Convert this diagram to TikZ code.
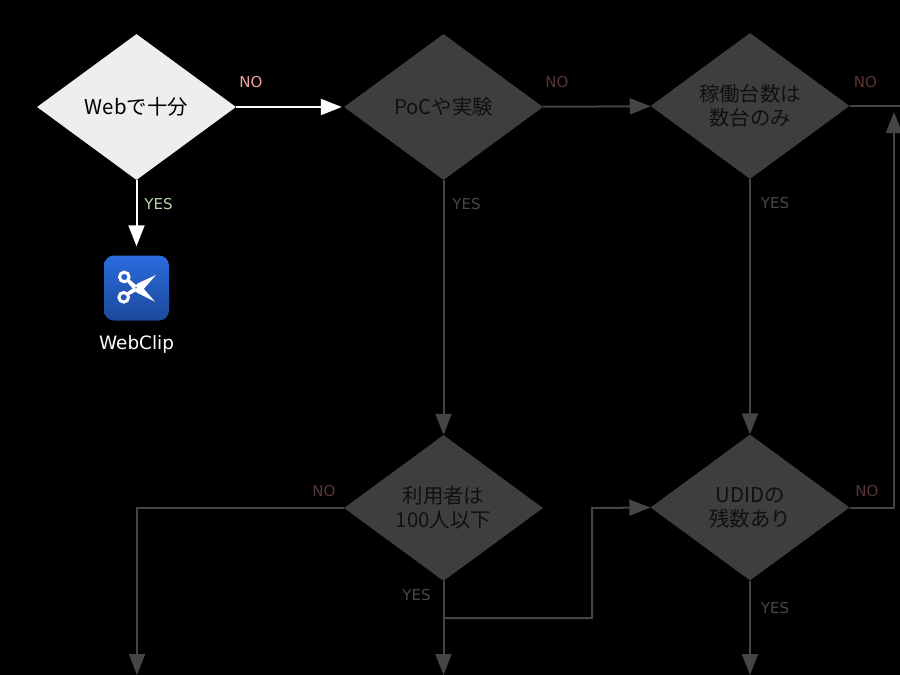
\documentclass[tikz,border=0pt]{standalone}
\usepackage{fontspec}
\setmainfont{DejaVu Sans}
\newfontfamily\cjk{Noto Sans CJK JP}
\usetikzlibrary{shapes.geometric,arrows.meta}
\definecolor{brightfill}{HTML}{EEEEEE}
\definecolor{dimfill}{HTML}{3E3E3E}
\definecolor{dimline}{HTML}{454545}
\definecolor{dimtext}{HTML}{101010}
\definecolor{dimno}{HTML}{5A3434}
\definecolor{dimyes}{HTML}{474A44}
\definecolor{brightno}{HTML}{F0A0A0}
\definecolor{brightyes}{HTML}{B6D7A8}
\definecolor{icontop}{HTML}{2A6BDC}
\definecolor{iconbottom}{HTML}{1B4A9C}
\begin{document}
\begin{tikzpicture}[
		x=1pt,y=-1pt,
		decision/.style={diamond,aspect=1.36,inner sep=0pt,minimum width=199pt,minimum height=146pt,align=center,font=\cjk\fontsize{20.4}{24}\selectfont},
		brightbox/.style={decision,fill=brightfill,text=black},
		dimbox/.style={decision,fill=dimfill,text=dimtext},
		flow/.style={line width=2pt,-{Triangle[length=21pt,width=16pt]}},
		brightflow/.style={flow,draw=white,color=white},
		dimflow/.style={flow,draw=dimline,color=dimline},
		dimlink/.style={line width=2pt,draw=dimline},
		tag/.style={inner sep=0pt,font=\fontsize{15}{17}\selectfont}
	]
	\fill[black] (0,0) rectangle (900,675);
	\useasboundingbox (0,0) rectangle (900,675);
	\node[brightbox] (web) at (136.5,107) {Webで十分};
	\node[dimbox] (poc) at (443.5,107) {PoCや実験};
	\node[dimbox] (few) at (750,106) {稼働台数は\\数台のみ};
	\node[dimbox] (users) at (443.5,508) {利用者は\\100人以下};
	\node[dimbox] (udid) at (750,507.5) {UDIDの\\残数あり};
	\node[rectangle,rounded corners=10pt,minimum size=65pt,inner sep=0pt,top color=icontop,bottom color=iconbottom] (clip) at (136.5,288) {};
	\node[text=white,inner sep=0pt,font=\fontsize{18.4}{20}\selectfont] (cliplabel) at (136.5,344.5) {WebClip};
	\coordinate (fewout) at (900,106);
	\coordinate (udidup) at (894,112);
	\coordinate (udidturn) at (894,507.5);
	\coordinate (usersno) at (137,675);
	\coordinate (usersyes) at (443.5,675);
	\coordinate (usersfork) at (443.5,618);
	\coordinate (usersbend) at (592,618);
	\coordinate (usersrise) at (592,508);
	\coordinate (udidyes) at (750,675);
	\draw[brightflow,shorten >=2pt] (web) -- (poc);
	\draw[brightflow,shorten >=9pt] (web) -- (clip);
	\draw[dimflow] (poc) -- (few);
	\draw[dimflow] (poc) -- (users);
	\draw[dimflow] (few) -- (udid);
	\draw[dimlink] (few) -- (fewout);
	\draw[dimflow] (udid.east) -- (udidturn) -- (udidup);
	\draw[dimflow] (users.west) -| (usersno);
	\draw[dimflow] (users) -- (usersyes);
	\draw[dimflow] (usersfork) -- (usersbend) -- (usersrise) -- (udid.west);
	\draw[dimflow] (udid) -- (udidyes);
	\node[tag,text=brightno] (webno) at (251,82.5) {NO};
	\node[tag,text=brightyes] (webyes) at (158.5,204.5) {YES};
	\node[tag,text=dimno] (pocno) at (557,82.5) {NO};
	\node[tag,text=dimyes] (pocyes) at (466.5,204.5) {YES};
	\node[tag,text=dimno] (fewno) at (865.5,82.5) {NO};
	\node[tag,text=dimyes] (fewyes) at (775,203.5) {YES};
	\node[tag,text=dimno] (usersnotag) at (324,491.5) {NO};
	\node[tag,text=dimyes] (usersyestag) at (416.5,595.5) {YES};
	\node[tag,text=dimno] (udidnotag) at (867,491.5) {NO};
	\node[tag,text=dimyes] (udidyestag) at (775,608.5) {YES};
	\draw[white,line width=3pt] (124.3,277) circle (4.8pt);
	\draw[white,line width=3pt] (123.7,297.3) circle (4.8pt);
	\fill[white] (127.5,292) -- (135,287) -- (137.5,283.5) -- (156,275) -- (141,292) -- (136.5,291) -- (129.5,295) -- cycle;
	\fill[white] (129.5,279.5) -- (136,285) -- (140,284.5) -- (155,301.7) -- (137.5,293) -- (134,290) -- (127.5,282.5) -- cycle;
	\fill[icontop!70!iconbottom] (136,287.7) circle (0.9pt);
\end{tikzpicture}
\end{document}
